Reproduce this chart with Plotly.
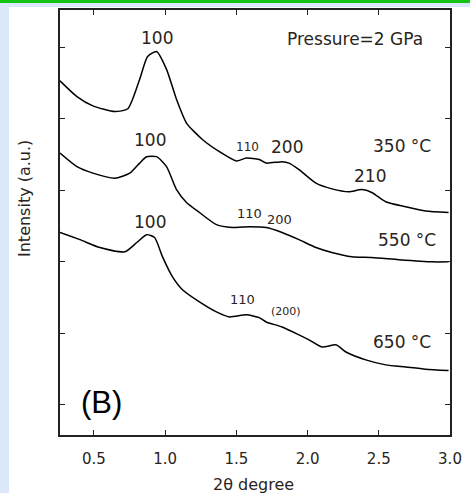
import plotly.graph_objects as go

# 2-theta (degree) and intensity (a.u., offset curves)
x_350 = [0.262, 0.381, 0.493, 0.647, 0.738, 0.821, 0.877, 0.940, 1.010, 1.080, 1.150, 1.262, 1.381,
         1.500, 1.570, 1.661, 1.710, 1.821, 1.870, 1.940, 2.059, 2.171, 2.290, 2.381, 2.451, 2.549,
         2.689, 2.828, 2.990]
y_350 = [4.53, 4.31, 4.18, 4.10, 4.14, 4.55, 4.87, 4.94, 4.69, 4.27, 3.94, 3.71, 3.54,
         3.41, 3.45, 3.43, 3.38, 3.40, 3.38, 3.29, 3.10, 3.02, 2.98, 3.01, 2.97, 2.84,
         2.77, 2.71, 2.69]

x_550 = [0.262, 0.381, 0.493, 0.647, 0.752, 0.821, 0.870, 0.940, 1.010, 1.080, 1.150, 1.241, 1.360,
         1.472, 1.591, 1.710, 1.821, 1.940, 2.059, 2.171, 2.311, 2.451, 2.640, 2.871, 2.990]
y_550 = [3.52, 3.33, 3.24, 3.17, 3.24, 3.38, 3.47, 3.47, 3.33, 3.01, 2.83, 2.69, 2.52,
         2.48, 2.49, 2.48, 2.41, 2.31, 2.20, 2.13, 2.07, 2.06, 2.03, 2.00, 2.00]

x_650 = [0.262, 0.402, 0.542, 0.717, 0.801, 0.870, 0.926, 0.982, 1.052, 1.122, 1.241, 1.360, 1.451,
         1.570, 1.661, 1.710, 1.821, 1.940, 2.010, 2.101, 2.199, 2.269, 2.409, 2.549, 2.689, 2.828,
         2.990]
y_650 = [2.41, 2.31, 2.20, 2.14, 2.27, 2.38, 2.34, 2.07, 1.79, 1.61, 1.44, 1.30, 1.23,
         1.26, 1.22, 1.16, 1.09, 0.98, 0.91, 0.81, 0.84, 0.74, 0.63, 0.56, 0.53, 0.50,
         0.48]

x_ticks = [0.5, 1.0, 1.5, 2.0, 2.5, 3.0]
x_tick_labels = ["0.5", "1.0", "1.5", "2.0", "2.5", "3.0"]
y_ticks = [0, 1, 2, 3, 4, 5]

W, H = 470, 493
ML, MR, MT, MB = 60, 20, 10, 58
PW, PH = W - ML - MR, H - MT - MB


def px(x):
    return (x - ML) / PW


def py(y):
    return (H - MB - y) / PH


FONT = "DejaVu Sans"
TXT = "#2a2420"

fig = go.Figure()
for xs, ys in [(x_350, y_350), (x_550, y_550), (x_650, y_650)]:
    fig.add_trace(go.Scatter(x=xs, y=ys, mode="lines", line_shape="spline",
                             line=dict(color="black", width=1.5, smoothing=0.6),
                             showlegend=False, hoverinfo="skip"))

labels = [
    ("100", 0.940, 5.13, 17),
    ("Pressure=2 GPa", 2.332, 5.12, 17),
    ("350 °C", 2.661, 3.62, 17),
    ("210", 2.437, 3.20, 17),
    ("110", 1.577, 3.61, 12),
    ("200", 1.856, 3.61, 17),
    ("100", 0.891, 3.71, 17),
    ("110", 1.591, 2.67, 13),
    ("200", 1.80, 2.59, 13),
    ("550 °C", 2.696, 2.31, 17),
    ("100", 0.891, 2.56, 17),
    ("110", 1.542, 1.47, 13),
    ("(200)", 1.849, 1.31, 11),
    ("650 °C", 2.661, 0.88, 17),
]
for t, x, y, s in labels:
    fig.add_annotation(x=x, y=y, text=t, showarrow=False, xref="x", yref="y",
                       font=dict(family=FONT, size=s, color=TXT))

fig.add_annotation(x=0.556, y=0.04, text="(B)", showarrow=False, xref="x", yref="y",
                   font=dict(family="Liberation Sans", size=31, color="black"))

# axis titles
fig.add_annotation(x=px(253), y=py(484), xref="paper", yref="paper", text="2θ degree",
                   showarrow=False, xanchor="center", yanchor="middle",
                   font=dict(family=FONT, size=16, color=TXT))
fig.add_annotation(x=px(24), y=py(199), xref="paper", yref="paper", text="Intensity (a.u.)",
                   showarrow=False, xanchor="center", yanchor="middle", textangle=-90,
                   font=dict(family=FONT, size=16, color=TXT))

# page decoration: light blue frame, green top line, white card
fig.add_shape(type="rect", xref="paper", yref="paper", layer="below",
              x0=px(9), x1=px(W + 5), y0=py(H + 5), y1=py(7),
              fillcolor="white", line=dict(width=0))
fig.add_shape(type="rect", xref="paper", yref="paper", layer="below",
              x0=px(-5), x1=px(W + 5), y0=py(3), y1=py(-5),
              fillcolor="#14c414", line=dict(width=0))

axis_common = dict(showgrid=False, zeroline=False, showline=True, linecolor="#222222",
                   linewidth=1.5, mirror="ticks", ticks="inside", ticklen=5,
                   tickcolor="#222222", tickwidth=1.2, automargin=False)

fig.update_layout(
    width=W, height=H,
    margin=dict(l=ML, r=MR, t=MT, b=MB),
    paper_bgcolor="#dbe8fb",
    plot_bgcolor="white",
    xaxis=dict(range=[0.262, 3.0], tickvals=x_ticks, ticktext=x_tick_labels,
               tickfont=dict(family=FONT, size=15, color=TXT), ticklabelstandoff=9,
               **axis_common),
    yaxis=dict(range=[-0.42, 5.52], tickvals=y_ticks, showticklabels=False,
               **axis_common),
)

fig.write_html("out.html", post_script="document.body.style.margin='0';",
               config={"displayModeBar": False})
